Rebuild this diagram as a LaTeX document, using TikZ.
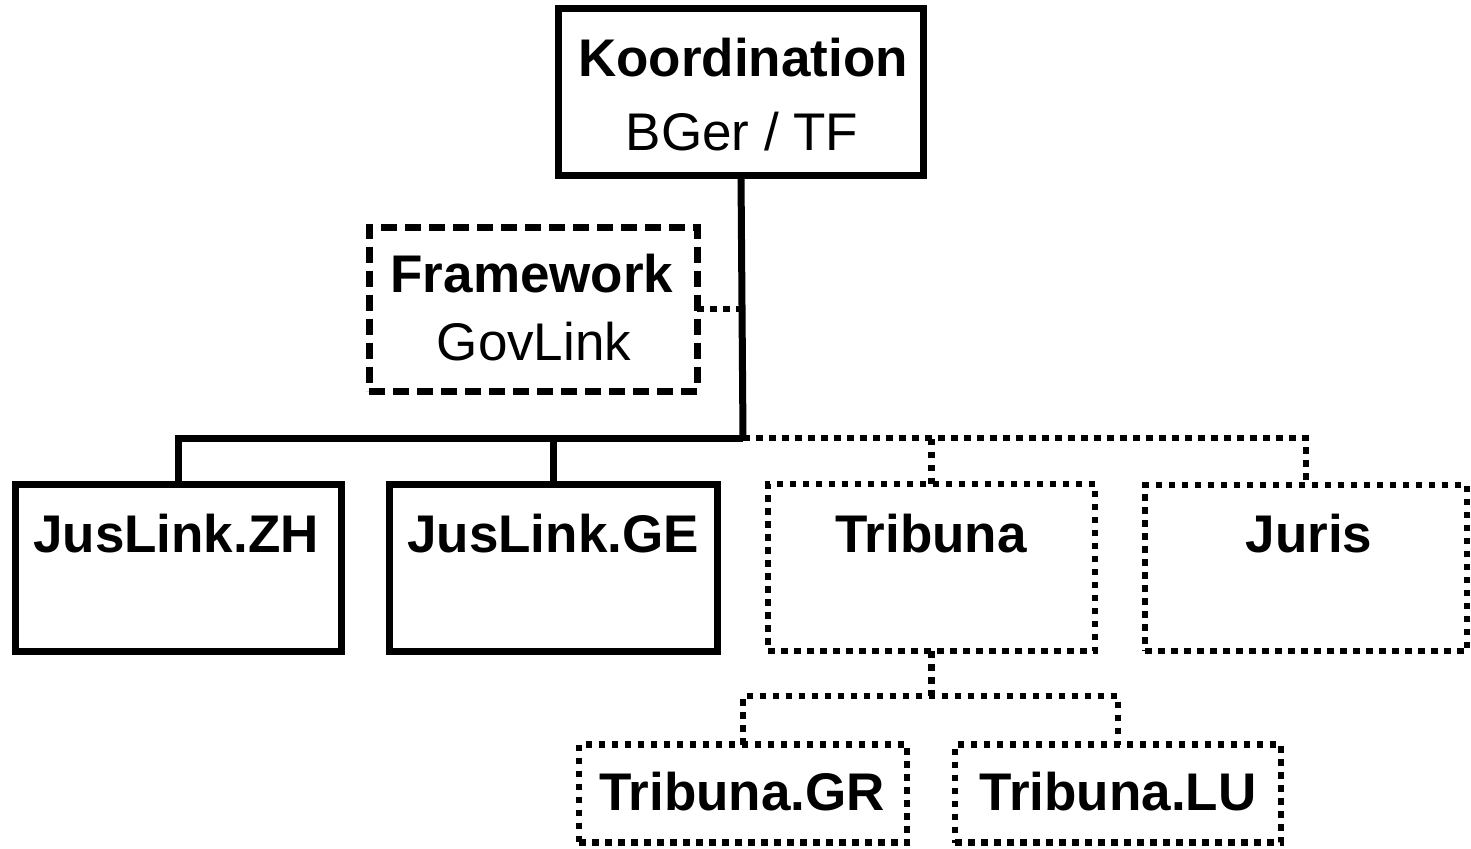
\documentclass[tikz,border=0pt]{standalone}
\usepackage{fontspec}
\setmainfont{Liberation Sans}
\begin{document}
\begin{tikzpicture}[x=1pt,y=-1pt,
  box/.style={draw,rectangle,inner sep=0pt,outer sep=0pt,line width=7pt},
  solidbox/.style={box},
  dashbox/.style={box,dash pattern=on 16pt off 8pt},
  dotbox/.style={box,line width=6.5pt,dash pattern=on 6.5pt off 6.5pt},
  conn/.style={line width=7pt},
  dotconn/.style={line width=6.5pt,dash pattern=on 6.5pt off 6.5pt},
  ttl/.style={anchor=base,inner sep=0pt,font=\fontsize{53}{60}\selectfont\bfseries},
  sub/.style={anchor=base,inner sep=0pt,font=\fontsize{53}{60}\selectfont}
]
\useasboundingbox (0,0) rectangle (1471,848);

% boxes
\node[solidbox,minimum width=365pt,minimum height=166pt] (koord) at (741,92) {};
\node[dashbox,minimum width=328pt,minimum height=164pt] (fw) at (533,309) {};
\node[solidbox,minimum width=326pt,minimum height=167pt] (zh) at (178,567.5) {};
\node[solidbox,minimum width=328pt,minimum height=167pt] (ge) at (553,567.5) {};
\node[dotbox,minimum width=327pt,minimum height=167pt] (trib) at (931.5,567.5) {};
\node[dotbox,minimum width=322pt,minimum height=166pt] (juris) at (1306,568) {};
\node[dotbox,minimum width=328pt,minimum height=98pt] (gr) at (743,793.5) {};
\node[dotbox,minimum width=326pt,minimum height=98pt] (lu) at (1118,793.5) {};

% texts
\node[ttl] (koordT) at (743,77) {Koordination};
\node[sub] (koordS) at (742,150) {BGer / TF};
\node[ttl] (fwT) at (532,292) {Framework};
\node[sub] (fwS) at (534,360) {GovLink};
\node[ttl] (zhT) at (176,552) {JusLink.ZH};
\node[ttl] (geT) at (553,552) {JusLink.GE};
\node[ttl] (tribT) at (931,552) {Tribuna};
\node[ttl] (jurisT) at (1309,552) {Juris};
\node[ttl] (grT) at (742,810) {Tribuna.GR};
\node[ttl] (luT) at (1118,810) {Tribuna.LU};

% junctions
\coordinate (j1) at (743,438);
\coordinate (j2) at (931.5,696);

% solid connectors
\draw[conn] (koord.south) -- (j1);
\draw[conn] (zh.north) |- (j1);
\draw[conn] (ge.north) -- (ge.north |- j1);

% dotted connectors
\draw[dotconn] (j1) -| (juris.north);
\draw[dotconn] (trib.north) -- (trib.north |- j1);
\draw[dotconn] (fw.east) -- (fw.east -| j1);
\draw[dotconn] (trib.south) -- (j2);
\draw[dotconn] (gr.north) |- (j2) -| (lu.north);
\end{tikzpicture}
\end{document}
